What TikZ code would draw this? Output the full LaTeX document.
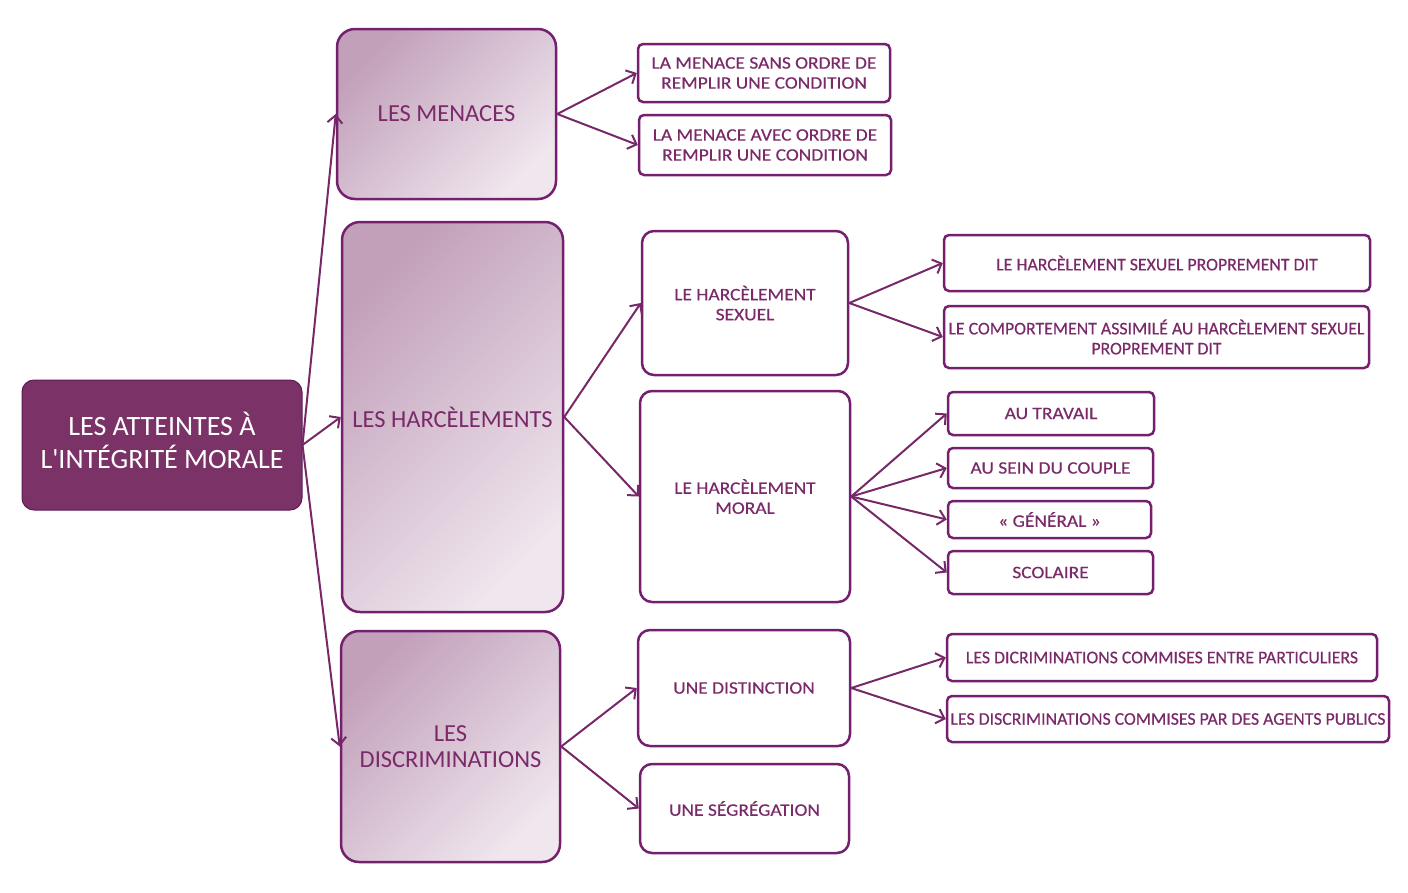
\documentclass[tikz,border=0pt]{standalone}
\usepackage{fontspec}
\setmainfont{Carlito}[Ligatures=TeXOff]
\newfontfamily\widefont[FakeStretch=1.11,FakeBold=0.4]{Carlito}
\newfontfamily\normfont[FakeBold=0.4]{Carlito}
\usetikzlibrary{arrows.meta}
\definecolor{rootfill}{HTML}{7B3367}
\definecolor{rootdraw}{HTML}{5E1A55}
\definecolor{boxdraw}{HTML}{75206E}
\definecolor{txt}{HTML}{7B2A69}
\definecolor{arr}{HTML}{762868}
\definecolor{gradA}{HTML}{C2A0BA}
\definecolor{gradB}{HTML}{EFE6EE}
\tikzset{
  rootbox/.style={draw=rootdraw, line width=1pt, fill=rootfill, rounded corners=12pt, text=white, align=center, inner sep=0pt, font=\fontsize{28}{32}\selectfont},
  catbox/.style={draw=boxdraw, line width=2.5pt, rounded corners=18pt, text=txt, align=center, inner sep=0pt,
    top color=gradA, bottom color=gradB, shading angle=45, font=\fontsize{24.5}{26}\selectfont},
  subbox/.style={draw=boxdraw, line width=2.5pt, rounded corners=12pt, fill=white, text=txt, align=center, inner sep=0pt, font=\widefont\fontsize{17.5}{20}\selectfont},
  leafbox/.style={draw=boxdraw, line width=2.5pt, rounded corners=5pt, fill=white, text=txt, align=center, inner sep=0pt, font=\widefont\fontsize{17.5}{20}\selectfont},
  narrowtext/.style={font=\normfont\fontsize{17.8}{20}\selectfont},
  conn/.style={draw=arr, line width=2pt, -{Straight Barb[length=7.5pt,width=15pt,line width=2pt]}}
}
\begin{document}
\begin{tikzpicture}[x=1pt,y=-1pt]
\useasboundingbox (0,0) rectangle (1408,892);
% root
\node[rootbox, minimum width=280pt, minimum height=130pt] (root) at (162,445) {\raisebox{3pt}{\begin{tabular}{@{}c@{}}LES ATTEINTES À\\L'INTÉGRITÉ MORALE\end{tabular}}};
% categories
\node[catbox, minimum width=219pt, minimum height=170pt] (men) at (446.5,114) {LES MENACES};
\node[catbox, minimum width=221pt, minimum height=390pt] (har) at (452.5,417) {LES HARCÈLEMENTS};
\node[catbox, minimum width=219pt, minimum height=231pt] (dis) at (450.5,746.5) {LES\\DISCRIMINATIONS};
% menaces children
\node[leafbox, minimum width=252pt, minimum height=58pt] (m1) at (764,73) {LA MENACE SANS ORDRE DE\\REMPLIR UNE CONDITION};
\node[leafbox, minimum width=252pt, minimum height=60pt] (m2) at (765,145) {LA MENACE AVEC ORDRE DE\\REMPLIR UNE CONDITION};
% harcelement children
\node[subbox, minimum width=206pt, minimum height=144pt] (hs) at (745,303) {LE HARCÈLEMENT\\SEXUEL};
\node[subbox, minimum width=210pt, minimum height=211pt] (hm) at (745,496.5) {LE HARCÈLEMENT\\MORAL};
\node[leafbox, narrowtext, minimum width=426pt, minimum height=56pt] (hs1) at (1157,263) {LE HARCÈLEMENT SEXUEL PROPREMENT DIT};
\node[leafbox, narrowtext, minimum width=425pt, minimum height=62pt] (hs2) at (1156.5,337) {LE COMPORTEMENT ASSIMILÉ AU HARCÈLEMENT SEXUEL\\PROPREMENT DIT};
\node[leafbox, minimum width=206pt, minimum height=43pt] (hm1) at (1051,413.5) {AU TRAVAIL};
\node[leafbox, minimum width=205pt, minimum height=40pt] (hm2) at (1050.5,468) {AU SEIN DU COUPLE};
\node[leafbox, minimum width=203pt, minimum height=37pt] (hm3) at (1049.5,519.5) {« GÉNÉRAL »};
\node[leafbox, minimum width=205pt, minimum height=43pt] (hm4) at (1050.5,572.5) {SCOLAIRE};
% discrimination children
\node[subbox, minimum width=212pt, minimum height=116pt] (d1) at (744,688) {UNE DISTINCTION};
\node[subbox, minimum width=209pt, minimum height=89pt] (d2) at (744.5,808.5) {UNE SÉGRÉGATION};
\node[leafbox, narrowtext, minimum width=430pt, minimum height=47pt] (d11) at (1162,657.5) {LES DICRIMINATIONS COMMISES ENTRE PARTICULIERS};
\node[leafbox, narrowtext, minimum width=442pt, minimum height=46pt] (d12) at (1168,719) {LES DISCRIMINATIONS COMMISES PAR DES AGENTS PUBLICS};
% connectors
\draw[conn] (root.east) -- (men.west);
\draw[conn] (root.east) -- (har.west);
\draw[conn] (root.east) -- (dis.west);
\draw[conn] (men.east) -- (m1.west);
\draw[conn] (men.east) -- (m2.west);
\draw[conn] (har.east) -- (hs.west);
\draw[conn] (har.east) -- (hm.west);
\draw[conn] (hs.east) -- (hs1.west);
\draw[conn] (hs.east) -- (hs2.west);
\draw[conn] (hm.east) -- (hm1.west);
\draw[conn] (hm.east) -- (hm2.west);
\draw[conn] (hm.east) -- (hm3.west);
\draw[conn] (hm.east) -- (hm4.west);
\draw[conn] (dis.east) -- (d1.west);
\draw[conn] (dis.east) -- (d2.west);
\draw[conn] (d1.east) -- (d11.west);
\draw[conn] (d1.east) -- (d12.west);
\end{tikzpicture}
\end{document}
